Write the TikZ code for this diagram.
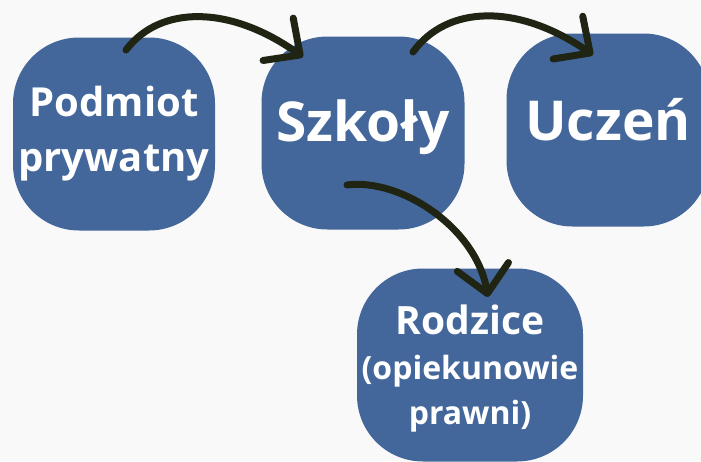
\documentclass[tikz,border=0pt]{standalone}
\usepackage{fontspec}
\setmainfont{Open Sans}
\usetikzlibrary{arrows.meta}
\definecolor{boxblue}{HTML}{44679B}
\definecolor{inkdark}{HTML}{1F2413}
\definecolor{paper}{HTML}{F9F9F9}

\begin{document}
\begin{tikzpicture}[x=1pt,y=-1pt,
  box/.style={fill=boxblue,rounded corners=66pt,inner sep=0pt,text=white,font=\bfseries,align=center,minimum height=193pt},
  link/.style={draw=inkdark,line width=7pt,line cap=round,-{Straight Barb[round,length=27pt,width=52pt]}}]
\fill[paper] (0,0) rectangle (701,461);
\clip (0,0) rectangle (701,461);

\node [box,minimum width=202pt,font=\bfseries\fontsize{40}{55}\selectfont] (podmiot) at (114,134) {Podmiot\\prywatny};
\node [box,minimum width=203pt,text depth=24pt,font=\bfseries\fontsize{55}{60}\selectfont] (szkoly) at (363,133) {Szkoły};
\node [box,minimum width=203pt,text depth=22pt,font=\bfseries\fontsize{55}{60}\selectfont] (uczen) at (608,130) {Uczeń};
\node [box,minimum width=226pt,text depth=-4pt,font=\bfseries\fontsize{32}{45}\selectfont] (rodzice) at (470,365) {{\fontsize{39}{46}\selectfont Rodzice}\\(opiekunowie\\prawni)};

% curved links
\coordinate (a1) at (126,50);  \coordinate (b1) at (303,57);
\coordinate (a2) at (413,52);  \coordinate (b2) at (593,55);
\coordinate (a3) at (347,185); \coordinate (b3) at (488,297);
\draw [link] (a1) .. controls +(34,-45) and +(-73,-52) .. (b1);
\draw [link] (a2) .. controls +(34,-47) and +(-75,-52) .. (b2);
\draw [link] (a3) .. controls +(53,-7) and +(-12,-70) .. (b3);

\end{tikzpicture}
\end{document}
